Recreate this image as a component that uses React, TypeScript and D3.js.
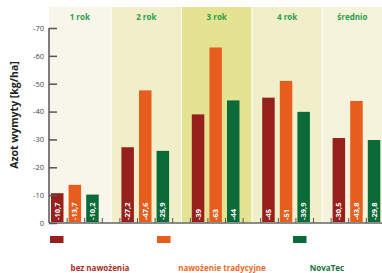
import React, { useEffect, useRef } from 'react';
import * as d3 from 'd3';

const groups = ['1 rok', '2 rok', '3 rok', '4 rok', 'średnio'];
const series = ['bez nawożenia', 'nawożenie tradycyjne', 'NovaTec'];
const bezNawozenia = [-10.7, -27.2, -39, -45, -30.5];
const tradycyjne = [-13.7, -47.6, -63, -51, -43.8];
const novaTec = [-10.2, -25.9, -44, -39.9, -29.8];
const yTicks = [0, -10, -20, -30, -40, -50, -60, -70];

const barColors = ['#97201c', '#e65d1e', '#0a6a38'];
const labelColors = ['#a3302a', '#ec6a2a', '#1a7040'];
const panelColors = ['#f8f5ea', '#f1efca', '#e4e392', '#f1efca', '#f6f3dd'];

const fmt = (v: number) => String(v).replace('.', ',');

const App = () => {
  const ref = useRef<SVGSVGElement>(null);

  useEffect(() => {
    const svg = d3.select(ref.current);
    svg.selectAll('*').remove();
    svg.style('font-family', '"Open Sans", sans-serif');

    const width = 382, height = 273;
    const values = [bezNawozenia, tradycyjne, novaTec];

    // 4 slots per group (3 bars + gap)
    const x = d3.scaleLinear().domain([0, 19]).range([49.5, 383.9]);
    const y = d3.scaleLinear().domain([0, -70]).range([223, 28]);

    // panels
    groups.forEach((g, i) => {
      const x0 = i === 0 ? 49 : x(i * 4 - 0.5) + 0.5;
      const x1 = i === groups.length - 1 ? width : x(i * 4 + 3.5) - 0.5;
      svg.append('rect')
        .attr('x', x0).attr('y', 7)
        .attr('width', x1 - x0).attr('height', 223 - 7)
        .attr('fill', panelColors[i]);
      svg.append('text')
        .attr('x', (x0 + x1) / 2).attr('y', 20)
        .attr('text-anchor', 'middle')
        .style('font-size', '8px').style('font-weight', 'bold')
        .attr('fill', '#2a9e48')
        .text(g);
    });

    // bars
    values.forEach((vals, s) => {
      vals.forEach((v, i) => {
        const slot = i * 4 + s;
        svg.append('rect')
          .attr('x', x(slot) + 1.5).attr('y', y(v))
          .attr('width', 12.5).attr('height', y(0) - y(v))
          .attr('fill', barColors[s]);
        svg.append('text')
          .attr('transform', `translate(${x(slot) + 7.75},${y(0) - 3}) rotate(-90)`)
          .attr('dy', '0.35em')
          .style('font-size', '7.5px').style('font-weight', 'bold')
          .attr('fill', '#fff')
          .text(fmt(v));
      });
    });

    // x axis
    svg.append('line')
      .attr('x1', 49).attr('x2', width)
      .attr('y1', y(0)).attr('y2', y(0))
      .attr('stroke', '#8a8a8a').attr('stroke-width', 2);
    d3.range(1, 19).forEach(k => {
      svg.append('line')
        .attr('x1', x(k)).attr('x2', x(k))
        .attr('y1', y(0) - 5).attr('y2', y(0))
        .attr('stroke', '#555').attr('stroke-width', 1);
    });

    // y axis
    const yAxis = svg.append('g').attr('transform', 'translate(49,0)')
      .call(d3.axisRight(y).tickValues(yTicks).tickSize(8).tickFormat(d => String(d)));
    yAxis.select('.domain').remove();
    yAxis.selectAll('.tick line').attr('stroke', '#555').attr('stroke-width', 1.5);
    yAxis.selectAll('.tick text')
      .attr('x', -5).attr('text-anchor', 'end')
      .style('font-size', '7.5px').attr('fill', '#444')
      .style('font-family', '"Open Sans", sans-serif');
    svg.append('line')
      .attr('x1', 49).attr('x2', 49)
      .attr('y1', y(-70)).attr('y2', y(0))
      .attr('stroke', '#555').attr('stroke-width', 1.5);

    svg.append('text')
      .attr('transform', 'translate(18,115) rotate(-90)')
      .attr('text-anchor', 'middle')
      .style('font-size', '10.5px').style('font-weight', 'bold')
      .attr('fill', '#222')
      .text('Azot wymyty [kg/ha]');

    // legend
    const swatchX = [50, 157, 293];
    const labelX = [100, 222, 327];
    series.forEach((s, i) => {
      svg.append('rect')
        .attr('x', swatchX[i]).attr('y', 236)
        .attr('width', 13.5).attr('height', 7)
        .attr('fill', barColors[i]);
      svg.append('text')
        .attr('x', labelX[i]).attr('y', 271)
        .attr('text-anchor', 'middle')
        .style('font-size', '8px').style('font-weight', 'bold')
        .attr('fill', labelColors[i])
        .text(s);
    });
  }, []);

  return (
    <svg ref={ref} width={382} height={273}
      style={{ position: 'absolute', left: 0, top: 0, background: '#fff' }} />
  );
};

export default App;
